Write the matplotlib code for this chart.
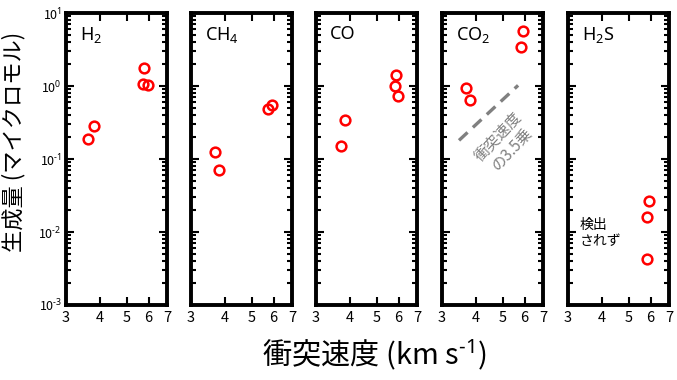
# impact-produced gas amounts vs impact velocity, five panels
import matplotlib.pyplot as plt
import numpy as np
from matplotlib.ticker import FixedLocator, NullLocator, LogLocator

plt.rcParams['font.family'] = ['Noto Sans CJK JP', 'DejaVu Sans']
plt.rcParams['mathtext.fontset'] = 'custom'
plt.rcParams['mathtext.rm'] = 'Noto Sans'
plt.rcParams['mathtext.it'] = 'Noto Sans'

### DATA ###
species = ["H$_2$", "CH$_4$", "CO", "CO$_2$", "H$_2$S"]
v_h2 = [3.61, 3.79, 5.77, 5.72, 5.97]
n_h2 = [0.19, 0.28, 1.77, 1.07, 1.02]
v_ch4 = [3.67, 3.79, 5.72, 5.9]
n_ch4 = [0.125, 0.07, 0.48, 0.55]
v_co = [3.82, 3.69, 5.87, 5.84, 5.95]
n_co = [0.34, 0.15, 1.41, 1.0, 0.73]
v_co2 = [3.67, 3.79, 5.9, 5.8]
n_co2 = [0.94, 0.64, 5.67, 3.42]
v_h2s = [5.9, 5.84, 5.8]
n_h2s = [0.027, 0.016, 0.0043]
velocities = [v_h2, v_ch4, v_co, v_co2, v_h2s]
amounts = [n_h2, n_ch4, n_co, n_co2, n_h2s]

# v^3.5 guide line in the CO2 panel
guide_v = [3.46, 5.68]
guide_n0 = 0.18
guide_exp = 3.5

xticks = [3, 4, 5, 6, 7]
yticks = [1e-3, 1e-2, 1e-1, 1e0, 1e1]
ytick_labels = ["10$^{\u2010" + "3}$", "10$^{\u2010" + "2}$", "10$^{\u2010" + "1}$",
                "10$^{0}$", "10$^{1}$"]

fig = plt.figure(figsize=(6.77, 3.80), dpi=100)
W, H = 677.0, 380.0
lefts = [66, 191, 316, 442, 568]
pw = 101
top, bottom = 13, 305

axes = []
for i, left in enumerate(lefts):
    ax = fig.add_axes([left / W, 1 - bottom / H, pw / W, (bottom - top) / H])
    ax.set_xscale('log')
    ax.set_yscale('log')
    ax.set_xlim(3, 7)
    ax.set_ylim(1e-3, 1e1)
    ax.plot(velocities[i], amounts[i], 'o', mfc='none', mec='red', ms=7, mew=1.8)
    ax.xaxis.set_major_locator(FixedLocator(xticks))
    ax.xaxis.set_minor_locator(NullLocator())
    ax.set_xticklabels([str(t) for t in xticks])
    ax.yaxis.set_major_locator(FixedLocator(yticks))
    ax.yaxis.set_minor_locator(LogLocator(base=10, subs=np.arange(2, 10), numticks=20))
    if i == 0:
        ax.set_yticklabels(ytick_labels)
    else:
        ax.set_yticklabels([])
    ax.tick_params(which='both', direction='in', top=True, right=True, width=1.5)
    ax.tick_params(which='major', length=6, labelsize=10.5, pad=4)
    ax.tick_params(which='minor', length=3.5)
    ax.tick_params(axis='y', labelsize=9, pad=3)
    for s in ax.spines.values():
        s.set_linewidth(2.8)
    ax.text(0.14, 0.96, species[i], transform=ax.transAxes, fontsize=13,
            ha='left', va='top', family=['Noto Sans', 'DejaVu Sans'])
    axes.append(ax)

# guide line and note in CO2 panel
gv = np.array(guide_v)
gn = guide_n0 * (gv / gv[0]) ** guide_exp
axes[3].plot(gv, gn, '--', color='gray', lw=2.4, dashes=(3.5, 2.2))
axes[3].text(5.1, 0.165, "衝突速度\nの3.5乗", color='gray', fontsize=11,
             rotation=47, ha='center', va='center', linespacing=1.1)

# note in H2S panel
axes[4].text(3.3, 0.0098, "検出\nされず", fontsize=10, ha='left', va='center',
             linespacing=1.2)

fig.text(14 / W, 1 - 142 / H, "生成量 (マイクロモル)", rotation=90, fontsize=16,
         ha='center', va='center')
fig.text(374 / W, 1 - 355 / H, "衝突速度 (km s$^{\u2010" + "1}$)", fontsize=21,
         ha='center', va='center')

fig.savefig("out.png", dpi=100)
